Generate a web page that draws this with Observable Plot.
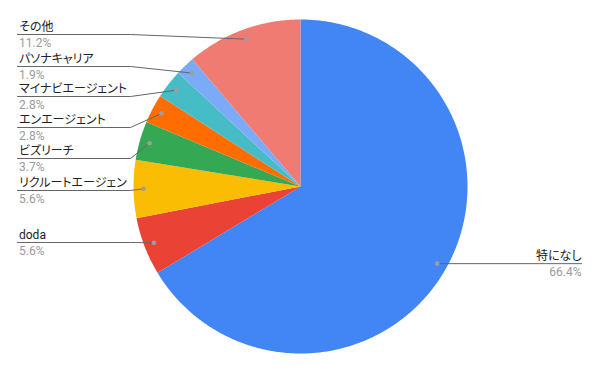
<!DOCTYPE html>
<html>
<head>
<meta charset="utf-8">
<script src="https://cdn.jsdelivr.net/npm/d3@7"></script>
<script src="https://cdn.jsdelivr.net/npm/@observablehq/plot@0.6"></script>
<style>
  html, body { margin: 0; padding: 0; background: #fff; }
  #chart svg { display: block; }
  #chart text { font-feature-settings: "palt"; }
</style>
</head>
<body>
<div id="chart"></div>
<script>
// Data (clockwise from 12 o'clock)
const categories = ["特になし", "doda", "リクルートエージェン", "ビズリーチ", "エンエージェント", "マイナビエージェント", "パソナキャリア", "その他"];
const counts = [71, 6, 6, 4, 3, 3, 2, 12];
const colors = ["#4285F4", "#EA4335", "#FBBC04", "#34A853", "#FF6D01", "#46BDC6", "#7BAAF7", "#F07B72"];

// Layout (label placement)
const labelSide = ["right", "left", "left", "left", "left", "left", "left", "left"];
const labelLineY = [null, 242, 190, 158, 127, 96, 66, 34];

const W = 600, H = 371;
const cx = 300, cy = 186, R = 167;
const leftX = 17, bendX = 130, rightX = 581;

const total = d3.sum(counts);
const fmt = d3.format(".1%");
const arcs = d3.pie().sort(null).value(d => d)(counts);

const pt = (a, r) => [cx + r * Math.sin(a), cy - r * Math.cos(a)];

// slice polygons
const slicePts = [];
arcs.forEach((a, i) => {
  const n = Math.max(2, Math.ceil((a.endAngle - a.startAngle) / (Math.PI / 360)));
  slicePts.push({cat: categories[i], x: cx, y: cy});
  for (let k = 0; k <= n; k++) {
    const ang = a.startAngle + (a.endAngle - a.startAngle) * k / n;
    const [x, y] = pt(ang, R);
    slicePts.push({cat: categories[i], x, y});
  }
  slicePts.push({cat: categories[i], x: cx, y: cy});
});

// leader lines, dots, labels
const dots = [], leaders = [], labels = [];
arcs.forEach((a, i) => {
  const mid = (a.startAngle + a.endAngle) / 2;
  const [dx, dy] = pt(mid, R * 0.94);
  dots.push({x: dx, y: dy});
  if (labelSide[i] === "right") {
    const ly = dy;
    leaders.push({cat: categories[i], x: dx, y: dy}, {cat: categories[i], x: rightX, y: ly});
    labels.push({x: rightX, y: ly - 4, text: categories[i], anchor: "end", kind: "name"});
    labels.push({x: rightX, y: ly + 12.5, text: fmt(counts[i] / total), anchor: "end", kind: "pct"});
  } else {
    const ly = labelLineY[i];
    leaders.push({cat: categories[i], x: leftX, y: ly}, {cat: categories[i], x: bendX, y: ly}, {cat: categories[i], x: dx, y: dy});
    labels.push({x: leftX + 1.5, y: ly - 4, text: categories[i], anchor: "start", kind: "name"});
    labels.push({x: leftX + 1.5, y: ly + 12.5, text: fmt(counts[i] / total), anchor: "start", kind: "pct"});
  }
});

const names = labels.filter(d => d.kind === "name");
const pcts = labels.filter(d => d.kind === "pct");

const chart = Plot.plot({
  width: W,
  height: H,
  margin: 0,
  x: {domain: [0, W], range: [0, W], axis: null},
  y: {domain: [0, H], range: [0, H], axis: null},
  color: {domain: categories, range: colors},
  style: {fontFamily: "Roboto, 'Noto Sans CJK JP', sans-serif", background: "#fff"},
  marks: [
    Plot.line(slicePts, {x: "x", y: "y", z: "cat", fill: "cat", stroke: "none"}),
    Plot.line(leaders, {x: "x", y: "y", z: "cat", stroke: "#666", strokeWidth: 1, fill: "none"}),
    Plot.dot(dots, {x: "x", y: "y", r: 2.3, fill: "#9e9e9e", stroke: "none"}),
    Plot.text(names.filter(d => d.anchor === "start"), {x: "x", y: "y", text: "text", textAnchor: "start", lineAnchor: "bottom", fontSize: 12, fill: "#222"}),
    Plot.text(names.filter(d => d.anchor === "end"), {x: "x", y: "y", text: "text", textAnchor: "end", lineAnchor: "bottom", fontSize: 12, fill: "#222"}),
    Plot.text(pcts.filter(d => d.anchor === "start"), {x: "x", y: "y", text: "text", textAnchor: "start", lineAnchor: "bottom", fontSize: 12, fill: "#9a9a9a"}),
    Plot.text(pcts.filter(d => d.anchor === "end"), {x: "x", y: "y", text: "text", textAnchor: "end", lineAnchor: "bottom", fontSize: 12, fill: "#9a9a9a"})
  ]
});
document.getElementById("chart").appendChild(chart);
</script>
</body>
</html>
